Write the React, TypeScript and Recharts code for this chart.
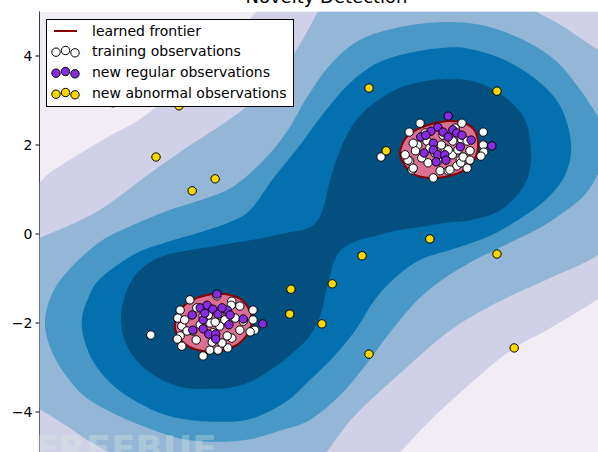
import React from "react";
import { ScatterChart, Scatter, XAxis, YAxis, Legend } from "recharts";

type Pt = { x: number; y: number };
const pts = (rows: number[][]): Pt[] => rows.map(([x, y]) => ({ x, y }));

const title = "Novelty Detection";
const watermark = "FREEBUF";
const xTicks = [-4, -2, 0, 2, 4];
const yTicks = [-4, -2, 0, 2, 4];
const legendLabels = [
  "learned frontier",
  "training observations",
  "new regular observations",
  "new abnormal observations",
];

// PuBu bands, outermost first
const bandColors = ["#f2edf5", "#d0d1e6", "#95b7d7", "#4998c6", "#0570b0", "#034f7f"];
const FRONTIER = "#8b0000";
const INSIDE = "#db7093";
const TRAIN = "#ffffff";
const REGULAR = "#8a2be2";
const ABNORMAL = "#ffd700";

// contour band outlines (data units)
const band1 = pts([[-5, -5], [5, -5], [5, 5], [-5, 5]]);
const band2 = pts([
  [-5, 1.15], [-4.73, 1.46], [-3.84, 2.16], [-3.27, 2.56], [-2.65, 3.2], [-2.0, 3.95],
  [-1.5, 4.6], [-1.22, 5], [5, 5], [5, -1.15], [4.73, -1.46], [3.84, -2.16],
  [3.27, -2.56], [2.65, -3.2], [2.0, -3.95], [1.5, -4.6], [1.22, -5], [-5, -5],
]);
const band3 = pts([
  [-5, -0.09], [-4.47, 0.2], [-3.95, 0.54], [-3.42, 1.03], [-3.07, 1.37], [-2.5, 1.89],
  [-1.91, 2.38], [-1.42, 2.83], [-0.98, 3.35], [-0.64, 3.91], [-0.37, 4.47], [-0.15, 5],
  [3.65, 5], [4.1, 4.68], [4.6, 4.25], [5, 3.93], [5, 0.09], [4.73, -0.47],
  [3.86, -1.01], [2.99, -1.53], [2.12, -2.2], [1.25, -3.17], [0.55, -4.0], [0.2, -4.55],
  [-0.05, -5], [-3.65, -5], [-4.1, -4.68], [-4.6, -4.25], [-5, -3.93],
]);
const band4 = pts([
  [-4.9, -2.13], [-4.82, -1.46], [-4.52, -0.85], [-3.95, -0.18], [-3.37, 0.2], [-2.73, 0.54],
  [-2.2, 0.76], [-1.63, 1.06], [-1.04, 1.73], [-0.64, 2.4], [-0.37, 3.01], [0.06, 3.8],
  [0.58, 4.36], [1.28, 4.65], [1.98, 4.76], [2.67, 4.7], [3.37, 4.4], [3.98, 3.91],
  [4.42, 3.24], [4.76, 2.56], [4.9, 2.11], [4.76, 1.44], [4.5, 0.88], [4.07, 0.43],
  [3.68, 0.11], [3.11, -0.25], [2.59, -0.58], [2.06, -0.99], [1.59, -1.48], [1.14, -2.16],
  [0.72, -2.88], [0.24, -3.62], [-0.29, -4.18], [-0.76, -4.4], [-1.33, -4.61], [-1.91, -4.67],
  [-2.5, -4.61], [-3.07, -4.38], [-3.65, -4.07], [-4.24, -3.62], [-4.69, -2.88],
]);
const band5 = pts([
  [-4.26, -1.89], [-4.15, -1.44], [-3.95, -1.01], [-3.37, -0.47], [-2.78, -0.18], [-2.2, 0.04],
  [-1.68, 0.27], [-1.33, 0.54], [-0.95, 1.21], [-0.46, 2.0], [-0.11, 2.61], [0.32, 3.28],
  [0.76, 3.75], [1.28, 4.02], [1.99, 4.18], [2.5, 4.16], [3.07, 3.93], [3.65, 3.48],
  [4.07, 2.88], [4.26, 2.04], [4.16, 1.33], [3.81, 0.76], [3.28, 0.27], [2.76, -0.09],
  [2.15, -0.36], [1.63, -0.58], [1.19, -0.99], [0.84, -1.48], [0.53, -2.11], [0.15, -2.72],
  [-0.29, -3.28], [-0.72, -3.78], [-1.33, -4.16], [-1.91, -4.22], [-2.5, -4.16], [-3.07, -3.93],
  [-3.65, -3.48], [-4.03, -2.94], [-4.22, -2.38],
]);
const band6 = pts([
  [-1.04, -0.07], [-0.64, 0.04], [-0.32, 0.13], [-0.15, 0.31], [-0.04, 0.65], [0.04, 1.1],
  [0.17, 1.66], [0.34, 2.18], [0.55, 2.61], [0.9, 3.01], [1.37, 3.33], [1.99, 3.48],
  [2.59, 3.42], [3.11, 3.08], [3.46, 2.56], [3.56, 1.89], [3.51, 1.28], [3.28, 0.81],
  [2.94, 0.47], [2.5, 0.31], [2.06, 0.25], [1.63, 0.16], [1.19, 0.07], [0.76, -0.07],
  [0.44, -0.2], [0.25, -0.36], [0.13, -0.63], [0.01, -1.21], [-0.1, -1.8], [-0.27, -2.25],
  [-0.51, -2.58], [-0.9, -2.99], [-1.42, -3.37], [-1.99, -3.48], [-2.59, -3.42], [-3.11, -3.08],
  [-3.46, -2.56], [-3.58, -1.98], [-3.51, -1.37], [-3.28, -0.85], [-2.9, -0.52], [-2.38, -0.36],
  [-1.86, -0.25], [-1.42, -0.16],
]);

const frontierUpper = pts([
  [1.28, 1.82], [1.42, 2.22], [1.77, 2.45], [2.12, 2.54], [2.41, 2.49], [2.59, 2.31],
  [2.64, 2.0], [2.59, 1.71], [2.41, 1.44], [2.12, 1.3], [1.84, 1.26], [1.54, 1.33], [1.37, 1.53],
]);
const frontierLower = pts([
  [-2.64, -2.04], [-2.55, -1.71], [-2.33, -1.48], [-1.98, -1.35], [-1.68, -1.37], [-1.45, -1.51],
  [-1.32, -1.78], [-1.3, -2.0], [-1.39, -2.27], [-1.56, -2.49], [-1.86, -2.63], [-2.15, -2.63],
  [-2.41, -2.52], [-2.59, -2.29],
]);

const trainUpper = pts([
  [1.63, 2.49], [1.44, 2.29], [2.73, 2.29], [2.73, 2.0], [2.74, 1.84], [2.69, 1.75],
  [1.45, 1.64], [1.49, 1.44], [1.86, 1.26], [1.98, 1.42], [2.12, 1.42], [2.27, 1.53],
  [2.33, 1.66], [2.45, 1.48], [2.36, 2.49], [2.36, 2.11], [1.59, 2.0], [1.66, 1.71],
  [1.77, 1.6], [2.06, 1.93], [2.19, 1.78], [1.94, 1.64], [1.55, 1.87], [1.75, 2.09],
  [2.2, 2.09], [2.45, 2.09], [2.5, 1.87], [1.89, 1.82], [1.51, 2.04], [1.72, 2.27],
  [2.24, 2.38], [0.95, 1.73], [1.42, 1.66], [1.51, 1.48], [2.15, 1.44], [2.34, 1.6],
  [2.38, 1.73], [2.0, 2.0], [2.12, 1.89], [1.8, 1.93], [2.29, 1.89], [2.03, 2.22],
  [2.5, 1.66], [1.37, 1.78],
]);
const trainLower = pts([
  [-2.38, -1.48], [-2.55, -1.71], [-2.59, -1.89], [-2.52, -2.07], [-2.55, -2.29], [-2.52, -2.52],
  [-2.15, -2.74], [-2.03, -2.61], [-1.89, -2.61], [-1.72, -2.56], [-1.65, -2.34], [-1.73, -2.29],
  [-1.82, -2.45], [-1.51, -2.16], [-1.45, -1.96], [-1.28, -1.93], [-1.25, -2.16], [-1.28, -1.71],
  [-1.65, -1.51], [-1.51, -1.62], [-2.33, -2.18], [-2.2, -2.04], [-2.03, -2.0], [-1.86, -2.07],
  [-1.98, -2.22], [-2.15, -1.84], [-1.86, -1.82], [-2.06, -1.82], [-2.47, -1.93], [-2.26, -1.66],
  [-2.43, -2.18], [-3.06, -2.27], [-1.91, -1.39], [-1.66, -1.6], [-1.33, -2.2], [-2.6, -2.36],
  [-1.99, -2.43], [-1.94, -1.98], [-1.77, -1.93], [-2.27, -2.38], [-1.59, -1.89],
]);
const regular = pts([
  [2.12, 2.65], [1.94, 2.4], [1.82, 2.31], [1.64, 2.18], [1.73, 2.22], [2.03, 2.29],
  [2.2, 2.34], [2.27, 2.27], [2.12, 2.18], [1.86, 2.04], [2.33, 1.96], [1.7, 1.82],
  [1.86, 1.89], [1.94, 1.78], [2.06, 1.78], [2.08, 1.66], [2.52, 2.11], [2.88, 1.98],
  [2.36, 2.22], [1.91, 1.62],
  [-1.91, -1.35], [-2.34, -1.82], [-2.2, -1.66], [-2.08, -1.6], [-1.98, -1.69], [-1.89, -1.8],
  [-1.73, -1.71], [-1.68, -1.82], [-1.45, -1.91], [-1.11, -2.02], [-2.15, -1.93], [-2.15, -2.13],
  [-2.33, -2.16], [-2.05, -2.25], [-1.93, -2.25], [-1.7, -2.04], [-1.93, -2.36], [-1.82, -1.66],
  [-2.12, -1.78],
]);
const abnormal = pts([
  [-2.57, 2.88], [-2.97, 1.73], [-2.34, 0.97], [-1.94, 1.24], [0.74, 3.28], [2.97, 3.21],
  [1.04, 1.87], [-0.62, -1.24], [-0.64, -1.8], [0.1, -1.12], [0.62, -0.49], [1.8, -0.11],
  [2.97, -0.45], [-0.08, -2.02], [0.74, -2.7], [3.27, -2.56], [-3.72, 2.95],
]);

const FONT = "DejaVu Sans";

// closed Catmull-Rom; vertices on the plot border stay sharp
function closedPath(p: { x: number; y: number }[], sharp: boolean[]) {
  const n = p.length;
  const tin: Pt[] = [];
  const tout: Pt[] = [];
  for (let i = 0; i < n; i++) {
    const a = p[(i - 1 + n) % n], c = p[i], b = p[(i + 1) % n];
    if (sharp[i]) {
      tin.push({ x: c.x - a.x, y: c.y - a.y });
      tout.push({ x: b.x - c.x, y: b.y - c.y });
    } else {
      const t = { x: (b.x - a.x) / 2, y: (b.y - a.y) / 2 };
      tin.push(t);
      tout.push(t);
    }
  }
  let d = `M${p[0].x},${p[0].y}`;
  for (let i = 0; i < n; i++) {
    const j = (i + 1) % n;
    d += `C${p[i].x + tout[i].x / 3},${p[i].y + tout[i].y / 3} ${p[j].x - tin[j].x / 3},${p[j].y - tin[j].y / 3} ${p[j].x},${p[j].y}`;
  }
  return d + "Z";
}

const outline = (data: Pt[], fill: string, stroke = "none", sw = 0) => (props: any) => {
  const p = props.points || [];
  if (!p.length) return <g />;
  const sharp = data.map((d) => Math.abs(d.x) >= 5 || Math.abs(d.y) >= 5);
  return <path d={closedPath(p, sharp)} fill={fill} stroke={stroke} strokeWidth={sw} />;
};

const NoDot = () => <g />;
const NoTick = () => <g />;
const dot = (fill: string) => (p: any) => (
  <circle cx={p.cx} cy={p.cy} r={4.2} fill={fill} stroke="#000" strokeWidth={1} />
);

const YTick = (p: any) => {
  const v = p.payload.value;
  const s = v < 0 ? "\u2212" + Math.abs(v) : String(v);
  return (
    <text x={p.x} y={p.y} dy={5} textAnchor="end" fontFamily={FONT} fontSize={14} fill="#000">
      {s}
    </text>
  );
};

const rowY = [11, 31, 52, 73];
const markerDy = [1.2, -0.5, 1.8];
const markerX = [9, 18.5, 28];

const LegendBox = () => (
  <div style={{ width: 248, height: 88, boxSizing: "border-box", border: "1px solid #000", background: "#fff" }}>
    <svg width={246} height={86} style={{ display: "block" }}>
      <line x1={7} x2={30} y1={rowY[0]} y2={rowY[0]} stroke={FRONTIER} strokeWidth={2} />
      {[TRAIN, REGULAR, ABNORMAL].map((c, r) =>
        markerX.map((mx, k) => (
          <circle key={`${r}-${k}`} cx={mx} cy={rowY[r + 1] + markerDy[k]} r={4.2} fill={c} stroke="#000" strokeWidth={1} />
        ))
      )}
      {legendLabels.map((t, i) => (
        <text key={t} x={45} y={rowY[i] + 5} fontFamily={FONT} fontSize={14} fill="#000">
          {t}
        </text>
      ))}
    </svg>
  </div>
);

const bands = [band1, band2, band3, band4, band5, band6];

export default function App() {
  return (
    <div style={{ position: "fixed", left: 0, top: 0, width: 598, height: 452, overflow: "hidden", background: "#fff" }}>
      <ScatterChart width={620} height={460} margin={{ top: 11.5, right: 6.5, bottom: 3.5, left: 0 }}>
        {bands.map((b, i) => (
          <Scatter key={`band${i}`} data={b} fill="none" line={outline(b, bandColors[i])} shape={NoDot} isAnimationActive={false} />
        ))}
        <Scatter data={frontierUpper} fill="none" line={outline(frontierUpper, INSIDE, FRONTIER, 2)} shape={NoDot} isAnimationActive={false} />
        <Scatter data={frontierLower} fill="none" line={outline(frontierLower, INSIDE, FRONTIER, 2)} shape={NoDot} isAnimationActive={false} />
        <Scatter data={trainUpper} shape={dot(TRAIN)} isAnimationActive={false} />
        <Scatter data={trainLower} shape={dot(TRAIN)} isAnimationActive={false} />
        <Scatter data={regular} shape={dot(REGULAR)} isAnimationActive={false} />
        <Scatter data={abnormal} shape={dot(ABNORMAL)} isAnimationActive={false} />
        <XAxis
          type="number" dataKey="x" domain={[-5, 5]} ticks={xTicks} allowDataOverflow
          orientation="top" mirror height={0} tickSize={5} tick={NoTick}
          axisLine={{ stroke: "#000" }} tickLine={{ stroke: "#000" }}
        />
        <XAxis
          xAxisId="b" type="number" dataKey="x" domain={[-5, 5]} ticks={xTicks} allowDataOverflow
          orientation="bottom" mirror height={0} tickSize={5} tick={NoTick}
          axisLine={{ stroke: "#000" }} tickLine={{ stroke: "#000" }}
        />
        <YAxis
          type="number" dataKey="y" domain={[-5, 5]} ticks={yTicks} allowDataOverflow
          width={39.5} tickSize={4} tickMargin={3} tick={YTick}
          axisLine={{ stroke: "#000" }} tickLine={{ stroke: "#000" }}
        />
        <Legend
          content={LegendBox} layout="horizontal" verticalAlign="middle" align="center"
          wrapperStyle={{ left: 46, top: 19, width: 248, height: 88 }}
        />
      </ScatterChart>
      <svg width={598} height={452} style={{ position: "absolute", left: 0, top: 0, pointerEvents: "none" }}>
        <text x={326.5} y={3} textAnchor="middle" fontFamily={FONT} fontSize={18} fill="#000">
          {title}
        </text>
        <text x={34} y={461} fontFamily={FONT} fontWeight="bold" fontSize={36} fill="#dcefe0" opacity={0.3}>
          {watermark}
        </text>
      </svg>
    </div>
  );
}
